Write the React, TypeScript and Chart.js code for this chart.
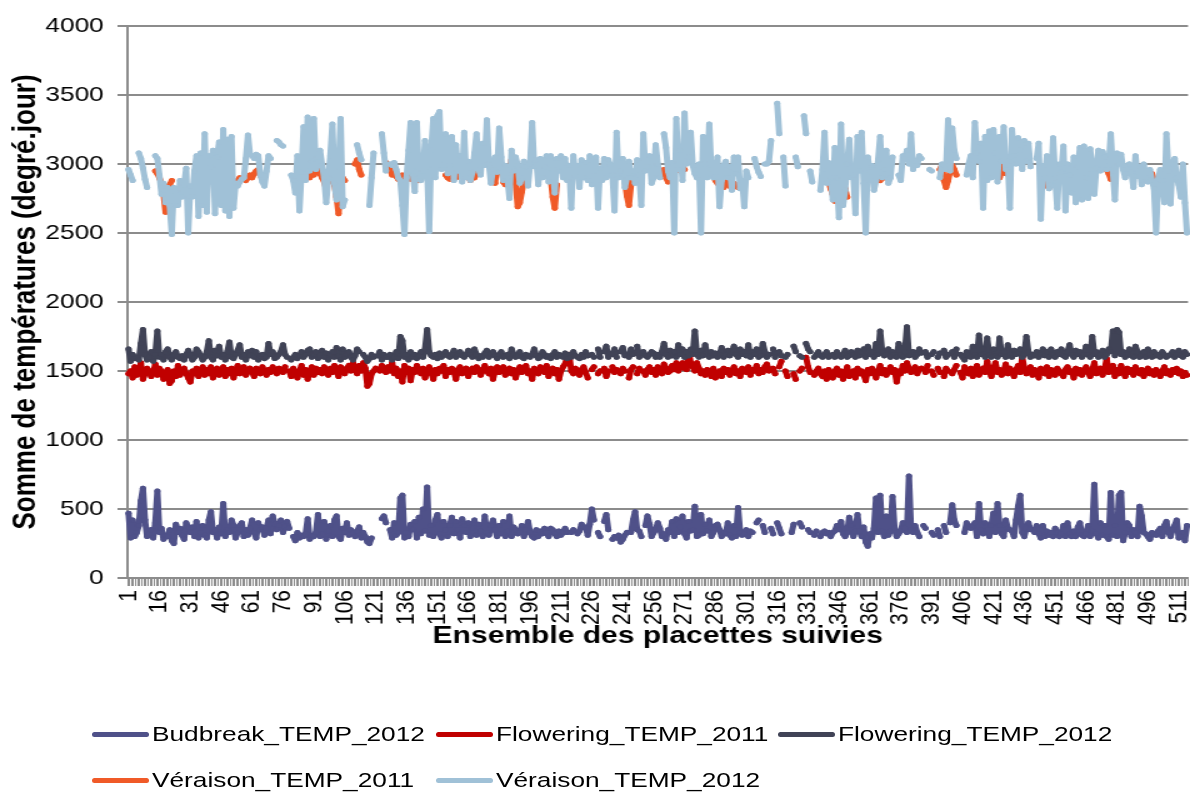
import React, { useEffect, useRef } from 'react';
import { Chart, registerables } from 'chart.js';

Chart.register(...registerables);

const _ = null;

// 515 monitored plots (placettes)
const categories: string[] = Array.from({ length: 515 }, (_v, i) => String(i + 1));
const labelStep = 15;

const seriesLabels = [
  'Budbreak_TEMP_2012',
  'Flowering_TEMP_2011',
  'Flowering_TEMP_2012',
  'Véraison_TEMP_2011',
  'Véraison_TEMP_2012',
];

const budbreak2012 = [
  470, 290, 420, 300, 330, 380, 560, 650, 420, 300, 320, 350, 290, 400, 630,
  330, 360, 280, 310, 300, 350, 270, 250, 390, 330, 360, 310, 280, 400, 370,
  330, 370, 300, 410, 290, 330, 380, 310, 290, 420, 480, 330, 350, 290, 370,
  320, 540, 300, 350, 330, 420, 380, 290, 330, 380, 400, 300, 350, 310, 360,
  420, 330, 290, 400, 350, 370, 310, 360, 420, 320, 450, 390, 350, 380, 420,
  330, 370, 410, 360, _, 300, 270, 330, 290, 310, 300, 320, 430, 280, 310,
  300, 330, 460, 300, 320, 410, 280, 340, 380, 300, 420, 450, 300, 280, 360,
  330, 400, 310, 350, 330, 300, 340, 370, 290, 330, 300, 260, 250, 290, _,
  _, _, _, 430, 450, 400, _, 350, 290, 400, 310, 330, 580, 600, 290,
  330, 300, 390, 350, 410, 290, 440, 320, 500, 340, 660, 310, 380, 300, 420,
  460, 320, 290, 410, 350, 300, 380, 440, 320, 410, 350, 290, 430, 380, 330,
  400, 300, 360, 420, 310, 390, 340, 300, 450, 330, 310, 380, 420, 350, 300,
  380, 320, 410, 300, 340, 450, 300, 370, 350, 320, 330, 380, 300, 350, 410,
  330, 300, 290, 350, 300, 340, 320, 360, 330, 300, 360, 350, 320, 300, 340,
  310, 330, 360, 330, _, 330, 350, _, 320, 340, 390, _, 370, 310, 390,
  500, 420, _, 330, 300, _, 410, 460, 350, _, 280, 300, 290, 310, 260,
  280, 310, 330, _, 330, 420, 480, 350, 340, 300, _, 380, 450, 390, 300,
  330, 350, 400, 360, 300, 320, 280, 350, 330, 410, 300, 430, 330, 370, 450,
  320, 290, 410, 340, 350, 520, 300, 310, 460, 320, 390, 340, 420, 300, 330,
  380, 390, 350, 300, 330, 320, 400, 310, 290, 380, 300, 510, 330, 310, 320,
  350, 300, 340, 330, _, 400, 420, _, 380, 330, _, _, 360, 320, _,
  400, 360, 320, _, _, _, _, 330, 390, _, _, 400, 370, _, _,
  350, 330, _, 310, 340, _, 300, 330, 340, 320, 330, 300, 330, 340, 380,
  350, 410, 320, 300, 330, 440, 380, 300, 340, 460, 340, 300, 370, 260, 230,
  320, 290, 360, 580, 330, 600, 340, 300, 450, 310, 340, 590, 360, 300, 320,
  340, 400, 360, 330, 740, 350, 330, 380, 330, 300, _, 380, 360, _, _,
  330, 310, _, 350, 300, _, 380, 330, _, 400, 530, 420, 380, _, _,
  _, 330, 400, 370, 360, 380, 400, 300, 540, 350, 320, 400, 380, 300, 380,
  470, 330, 540, 380, 320, 300, 420, 360, 350, 340, 300, 420, 520, 600, 330,
  300, 360, 400, 350, _, 330, 380, 320, 290, 380, 300, 340, 310, 330, 300,
  360, 330, 300, 320, 380, 300, 400, 320, 300, 340, 300, 370, 400, 310, 300,
  320, 380, 300, 340, 680, 320, 290, 400, 310, 380, 300, 280, 620, 310, 380,
  300, 600, 620, 270, 330, 400, 380, 300, 350, 330, 300, 520, 450, 330, 320,
  300, 280, 330, _, 310, 340, 360, 300, 380, 410, 330, 300, 350, 380, 420,
  290, 300, 330, 270, 380,
];

const flowering2011 = [
  1480, 1500, 1450, 1530, 1470, 1500, 1560, 1440, 1480, 1520, 1500, 1460, 1490, 1550, 1470,
  1520, 1500, 1440, 1480, 1510, 1410, 1430, 1500, 1460, 1540, 1470, 1500, 1520, 1480, 1450,
  1420, 1500, 1480, 1520, 1460, 1500, 1530, 1470, 1510, 1480, 1530, 1450, 1500, 1520, 1470,
  1490, 1530, 1460, 1510, 1480, 1520, 1450, 1500, 1540, 1480, 1510, 1530, 1470, 1500, 1520,
  1490, 1460, 1520, 1500, 1480, 1530, 1500, 1470, 1510, 1490, 1530, 1500, 1480, 1520, 1510,
  1490, 1530, _, 1500, 1460, 1520, 1480, 1450, 1500, 1540, 1470, 1510, 1440, 1500, 1530,
  1470, 1520, 1490, 1510, 1480, 1530, 1500, 1470, 1520, 1490, 1540, 1500, 1460, 1530, 1510,
  1480, 1520, 1540, 1500, 1560, 1510, 1480, 1540, 1500, 1560, 1520, 1390, 1410, 1480, 1500,
  1520, _, 1500, 1540, 1510, 1490, 1530, 1500, 1560, 1480, 1520, 1460, 1500, 1420, 1540,
  1500, 1520, 1430, 1510, 1490, 1540, 1510, 1480, 1520, 1450, 1500, 1530, 1490, 1440, 1510,
  1480, 1520, 1500, 1540, 1460, 1510, 1490, 1520, 1500, 1440, 1510, 1530, 1480, 1500, 1520,
  1460, 1500, 1520, 1490, 1530, 1510, 1470, 1500, 1540, 1500, 1480, 1520, 1440, 1500, 1530,
  1490, 1510, 1530, 1470, 1500, 1520, 1480, 1510, 1450, 1500, 1530, 1490, 1510, 1540, 1480,
  1500, 1440, 1520, 1500, 1480, 1530, 1510, 1490, 1540, 1460, 1500, 1520, 1480, 1510, 1440,
  1500, 1530, 1550, 1600, 1620, 1500, 1480, 1520, 1500, 1470, 1510, 1530, 1490, 1450, _,
  1510, 1530, _, 1480, 1500, _, 1520, 1460, 1500, _, 1530, 1490, 1510, _, 1480,
  1520, 1500, _, 1450, 1510, 1530, _, 1480, 1520, _, 1500, 1470, 1510, 1530, 1490,
  1510, 1470, 1530, 1500, 1480, 1550, 1520, 1490, 1500, 1540, 1510, 1560, 1500, 1530, 1560,
  1520, 1510, 1640, 1560, 1530, 1500, 1560, 1520, 1480, 1500, 1470, 1510, 1490, 1460, 1520,
  1450, 1480, 1500, 1460, 1520, 1490, 1510, 1470, 1500, 1530, 1480, 1500, 1460, 1520, 1500,
  1490, 1530, 1470, 1510, 1500, 1540, 1480, 1510, 1490, 1530, 1550, 1500, _, 1520, 1480,
  _, 1530, 1570, _, 1500, 1460, _, _, 1480, 1440, _, 1500, 1520, _, 1600,
  1530, 1490, _, 1470, 1500, 1520, 1480, 1460, 1500, 1440, 1510, 1480, 1450, 1500, 1520,
  1470, 1500, 1440, 1490, 1530, 1460, 1480, 1500, 1450, 1520, 1480, 1500, 1470, 1430, 1510,
  1480, 1520, 1490, 1450, 1500, 1540, 1480, 1510, 1470, 1500, 1530, 1490, 1510, 1420, 1500,
  1480, 1540, 1500, 1560, 1520, 1490, 1500, 1530, 1480, 1510, 1520, _, 1490, 1540, _,
  1500, 1470, _, 1520, 1490, _, 1460, 1520, 1500, _, 1480, 1510, 1540, _, 1490,
  1450, 1530, 1500, 1480, 1520, 1460, 1510, 1540, 1470, 1500, 1520, 1490, 1570, 1500, 1460,
  1520, 1560, 1490, 1510, 1470, 1500, 1550, 1480, 1520, 1500, 1460, 1510, 1540, 1490, 1600,
  1520, 1480, 1500, 1530, 1470, 1510, 1490, 1450, 1520, 1500, 1480, 1530, 1460, 1510, 1490,
  1470, 1520, 1500, 1480, 1460, 1510, 1530, 1490, 1500, 1450, 1520, 1480, 1510, 1470, 1500,
  1530, 1490, 1460, 1510, 1560, 1480, 1500, 1520, 1470, 1510, 1590, 1490, 1520, 1540, 1460,
  1510, 1480, 1540, 1500, 1460, 1520, 1490, 1510, 1470, 1530, 1500, 1480, 1510, 1460, 1500,
  1520, 1480, 1500, 1470, 1510, 1490, 1460, 1500, 1530, 1480, 1500, 1470, 1510, 1490, 1520,
  1480, 1500, 1460, 1490, 1470,
];

const flowering2012 = [
  1660, 1570, 1620, 1590, 1600, 1580, 1700, 1800, 1620, 1580, 1600, 1640, 1570, 1620, 1790,
  1600, 1620, 1580, 1640, 1660, 1600, 1580, 1620, 1640, 1600, 1590, 1610, 1580, 1620, 1650,
  1620, 1580, 1600, 1660, 1640, 1610, 1580, 1600, 1640, 1720, 1600, 1580, 1650, 1610, 1680,
  1600, 1620, 1580, 1640, 1710, 1600, 1590, 1620, 1650, 1690, 1600, 1620, 1580, 1640, 1610,
  1650, 1600, 1640, 1580, 1610, 1620, 1590, 1600, 1700, 1620, 1640, 1590, 1600, 1620, 1640,
  1690, 1620, 1600, _, 1580, 1600, 1620, 1590, 1610, 1640, 1600, 1620, 1650, 1660, 1600,
  1620, 1640, 1590, 1610, 1650, 1600, 1630, 1580, 1620, 1640, 1600, 1670, 1610, 1580, 1660,
  1600, 1620, 1640, 1600, 1580, 1610, 1660, 1640, _, 1620, 1600, 1570, 1590, 1620, 1600,
  _, 1610, 1640, 1580, 1620, 1600, 1600, 1620, 1580, 1600, 1640, 1590, 1750, 1720, 1600,
  1620, 1580, 1640, 1600, 1620, 1590, 1610, 1640, 1600, 1660, 1800, 1640, 1610, 1600, 1620,
  1590, 1630, 1600, 1620, 1640, 1610, 1600, 1620, 1650, 1600, 1620, 1640, 1610, 1600, 1620,
  1650, 1620, 1600, 1660, 1620, 1590, 1610, 1600, 1630, 1650, 1600, 1620, 1640, 1610, 1590,
  1620, 1640, 1600, 1610, 1620, 1590, 1660, 1620, 1600, 1610, 1640, 1600, 1590, 1620, 1610,
  1600, 1620, 1660, 1610, 1590, 1600, 1640, 1620, 1600, 1610, 1590, 1620, 1640, 1600, 1620,
  1610, 1600, 1630, 1590, 1620, 1600, 1640, 1610, 1600, 1590, 1620, 1600, 1640, 1610, _,
  1620, 1600, _, 1660, 1600, _, 1640, 1680, 1600, _, 1620, 1660, 1600, _, 1640,
  1670, 1610, _, 1600, 1660, 1620, _, 1680, 1600, _, 1640, 1610, 1600, 1620, 1640,
  1630, 1600, 1620, 1600, 1640, 1700, 1620, 1600, 1650, 1610, 1640, 1600, 1690, 1620, 1660,
  1600, 1640, 1610, 1660, 1620, 1790, 1620, 1600, 1650, 1610, 1690, 1620, 1600, 1640, 1610,
  1630, 1600, 1620, 1670, 1600, 1620, 1650, 1610, 1640, 1680, 1620, 1600, 1660, 1620, 1640,
  1610, 1690, 1600, 1640, 1620, 1660, 1600, 1610, 1700, 1640, 1600, 1620, _, 1660, 1600,
  _, 1640, 1610, _, 1600, 1620, _, _, 1680, 1640, _, 1610, 1600, _, 1700,
  1660, 1640, _, 1600, 1620, 1640, 1610, 1600, 1620, 1640, 1600, 1610, 1620, 1600, 1640,
  1610, 1600, 1620, 1650, 1600, 1610, 1640, 1620, 1600, 1650, 1610, 1640, 1660, 1600, 1680,
  1620, 1640, 1600, 1700, 1620, 1790, 1640, 1610, 1620, 1660, 1600, 1640, 1620, 1600, 1700,
  1620, 1600, 1640, 1820, 1610, 1620, 1640, 1600, 1620, 1660, 1630, _, 1640, 1600, _,
  1620, 1640, _, 1600, 1630, _, 1650, 1600, 1620, _, 1640, 1600, 1660, _, 1620,
  1600, 1580, 1640, 1610, 1600, 1680, 1620, 1600, 1760, 1620, 1660, 1600, 1740, 1620, 1600,
  1660, 1610, 1600, 1740, 1620, 1640, 1600, 1690, 1620, 1600, 1650, 1620, 1640, 1660, 1600,
  1620, 1750, 1640, 1600, 1620, 1610, 1640, 1600, 1620, 1660, 1610, 1640, 1600, 1660, 1620,
  1600, 1640, 1620, 1660, 1610, 1600, 1640, 1690, 1620, 1600, 1650, 1620, 1640, 1600, 1620,
  1680, 1620, 1600, 1750, 1620, 1640, 1600, 1620, 1650, 1600, 1620, 1660, 1640, 1790, 1610,
  1800, 1780, 1620, 1640, 1600, 1620, 1660, 1610, 1600, 1680, 1640, 1600, 1620, 1640, 1600,
  1660, 1620, 1600, 1640, 1610, 1620, 1600, 1640, 1620, 1600, 1610, 1620, 1640, 1600, 1620,
  1650, 1610, 1600, 1640, 1620,
];

const veraison2011 = [
  _, _, _, _, _, _, _, _, _, _, _, _, _, 2950, 2930,
  2900, 2860, 2780, 2650, 2720, 2850, 2880, _, _, _, _, _, _, _, _,
  _, _, 2780, 2930, 2870, 2760, 2900, _, _, _, _, _, _, _, _,
  _, _, _, _, _, _, _, 2860, 2880, 2900, 2890, 2910, 2880, 2900, 2920,
  2900, 2930, 2950, 2960, 2920, 2890, 2900, _, _, _, _, _, _, _, _,
  _, _, _, _, _, _, _, _, _, _, _, _, _, 2900, 2940,
  2920, 2950, 2960, 2930, 2900, 2870, 2820, 2900, 2950, 2880, 2850, 2760, 2640, 2820, 2900,
  2880, _, _, _, _, 3000, 3030, 2960, 2920, _, _, _, _, _, _,
  _, _, _, _, _, 3010, 2990, 2960, 2920, 2940, 2910, 2890, 2900, 2920, 2880,
  2900, 2920, 2890, 2910, 2930, 2900, 2880, 2900, _, _, _, _, _, _, _,
  _, _, _, _, 2920, 2900, 2890, 2910, 2930, 2900, 2950, 2980, 3030, 2990, 2960,
  2920, 2880, 2910, 2900, 2930, _, _, _, _, _, _, 2940, 2920, 2860, 3010,
  3020, 2990, 2870, 2850, 2900, 2950, 3030, 2980, 2860, 2690, 2720, 2800, 2880, 2950, _,
  _, _, _, _, _, _, _, _, _, _, 2900, 2760, 2680, 2850, _,
  _, _, _, _, _, _, _, _, _, _, _, _, _, _, _,
  _, _, _, _, _, _, _, _, _, _, _, _, _, _, _,
  2930, 2880, 2770, 2700, 2850, 2920, _, _, _, _, _, _, _, _, _,
  _, _, _, _, 2940, 2960, 2900, 2870, _, _, _, _, 2960, 2950, 2980,
  2960, _, _, _, _, _, _, _, _, _, _, _, _, _, _,
  2880, 2860, 2850, 2870, 2830, 2860, 2880, 2840, 2820, 2860, 2850, 2830, _, _, _,
  _, _, _, _, _, _, _, _, _, _, _, _, _, _, _,
  _, _, _, _, _, _, _, _, _, _, _, _, _, _, _,
  _, _, _, _, _, _, _, 2900, 2880, 2910, 2870, 2820, 2780, 2730, 2800,
  2850, 2900, 2880, 2820, 2760, _, _, _, _, _, _, _, _, _, _,
  _, _, _, _, _, 2880, 2910, 2900, _, _, _, _, _, _, _,
  _, _, _, _, _, _, _, _, _, _, _, _, _, _, _,
  _, _, _, _, 2960, 2990, 2880, 2830, 2880, 2950, 2990, 2960, 2920, _, _,
  _, _, _, _, _, _, _, _, _, _, _, _, 2950, 3000, 3040,
  2990, 3020, 2950, 2900, 2950, 3000, 2930, _, _, _, _, _, _, _, _,
  _, _, _, _, _, _, _, _, _, _, 2880, 2840, 2830, 2850, 2870,
  2860, 2880, _, _, _, _, _, _, _, _, _, _, _, _, _,
  _, _, _, _, _, _, _, _, _, _, 2960, 2930, 2890, 2930, _,
  _, _, _, _, _, _, _, _, _, _, _, _, _, _, _,
  _, _, 2930, 2880, 2850, 2860, _, _, _, _, _, _, _, _, _,
  _, _, _, _, _,
];

const veraison2012 = [
  2960, 2920, 2880, _, _, 3080, 3040, 2970, 2890, 2830, _, _, _, 3060, 3040,
  2920, 2780, 2860, 2720, 2830, 2700, 2490, 2830, 2800, 2700, 2880, 2760, 2850, 2970, 2500,
  2840, 2760, 2950, 3060, 2620, 3080, 2700, 3220, 2650, 3060, 2980, 3100, 2640, 3050, 3160,
  2700, 3250, 2660, 3180, 2620, 3200, 2680, 2860, 2840, 2870, 2890, 2900, 3040, 3210, 3070,
  3060, 3040, 3070, 3060, 2920, 2870, 2840, 2950, 3060, 3040, _, _, 3170, 3160, 3140,
  3130, _, _, _, 2920, 2880, 2790, 3060, 2660, 2940, 3270, 2880, 3340, 2950, 3020,
  3330, 2960, 3050, 3100, 2990, 2900, 2720, 2900, 3060, 3290, 2860, 2740, 2950, 3330, 2690,
  2740, _, _, _, _, _, 3140, 3080, 3030, _, _, _, 2700, 2900, 3080,
  _, _, _, 3220, 3080, 2950, _, 3000, 2990, 3010, 2960, 2900, 2880, 2700, 2490,
  2900, 3100, 3300, 2950, 2800, 3300, 2900, 2880, 2950, 3170, 2980, 2510, 3100, 3330, 2900,
  3350, 3380, 2960, 3000, 3220, 2930, 2990, 3200, 2880, 3140, 2950, 3060, 2870, 3230, 2900,
  3020, 2880, 2940, 3080, 3220, 2960, 2920, 3150, 2990, 3320, 3000, 2860, 2960, 3050, 2940,
  3260, 3050, 2880, 2990, 2900, 2750, 3100, 2950, 3050, 2990, 2860, 2900, 3020, 2980, 2840,
  3000, 3300, 2980, 3030, 2850, 3040, 2900, 2980, 3060, 2870, 3060, 2960, 2790, 3040, 2950,
  3060, 2900, 3040, 2880, 2990, 2680, 3060, 2910, 2990, 2830, 3030, 2900, 3010, 2880, 3060,
  2850, 2920, 3050, 2680, 2970, 2880, 3040, 2900, 3030, 2990, 2920, 2660, 3230, 2900, 2950,
  3040, 2830, 2900, 3020, 2900, 2950, 2860, 3030, 2920, 2700, 3220, 2950, 2980, 3060, 2860,
  2900, 3140, 3000, 2900, _, 3220, 3120, 2950, 2900, 3010, 2500, 3330, 2960, 3100, 2880,
  3370, 3000, 3050, 3230, 2990, 2930, 2900, 3000, 2500, 3200, 3000, 2900, 3290, 2960, 2900,
  2910, 3050, 2690, 2880, 2990, 3020, 2900, 2980, 2810, 3050, 2930, 3050, 2820, 2880, 2690,
  2950, 2900, _, _, 3040, 2980, 2940, 2910, _, 3000, 3000, 3020, 3170, _, _,
  3440, 3220, _, 3050, 2840, _, _, _, _, 3050, 2980, _, _, 3350, 3220,
  _, 2950, 2870, _, _, _, 2810, 2960, 3230, 2860, 3010, 2900, 2740, 3120, 2900,
  2610, 3290, 2700, 2810, 3000, 3180, 2900, 2920, 2640, 3200, 2950, 3230, 2860, 2500, 3050,
  2940, 2990, 2810, 2880, 3030, 3200, 2900, 2960, 3100, 2860, 2900, 3050, _, _, 2920,
  2880, 3060, 3040, 3100, 3000, 3220, 2960, 3020, 2990, 3060, 3040, _, _, _, 2960,
  2950, _, _, _, 2900, 3000, 2990, 2960, 3320, 2950, 3260, 3100, 3040, _, _,
  _, _, 2920, 3000, 3060, 2900, 3300, 3080, 3020, 3150, 2680, 3200, 2880, 3240, 2900,
  3250, 3080, 2870, 3200, 3020, 3270, 2960, 3020, 2680, 3250, 3060, 3000, 3190, 3100, 2960,
  3170, 3020, 3150, 2980, _, _, 3040, 3150, 2600, 2990, 2900, 3060, 2820, 2850, 3190,
  2900, 2680, 3000, 2940, 3130, 2660, 3000, 2920, 2790, 3050, 2720, 2980, 3120, 2740, 3130,
  2900, 2750, 3110, 2960, 2780, 2970, 3100, 2950, 3090, 3050, 2960, 2990, 3220, 2950, 2740,
  3080, 3000, 3070, 2960, 2900, 2990, 3000, 2940, 2830, 3060, 2910, 2980, 2850, 3000, 2900,
  2870, 2960, 2880, 2820, 2500, 2890, 2960, 2880, 2720, 3220, 2950, 2710, 3000, 3040, 2900,
  2850, 2760, 3000, 2720, 2500,
];

const yTitle = 'Somme de températures (degré.jour)';
const xTitle = 'Ensemble des placettes suivies';

const COLORS = ['#4f5189', '#c00000', '#404356', '#f05a28', '#a0c1d7'];
const FONT = "'Liberation Sans', Arial, Helvetica, sans-serif";

export default function App() {
  const ref = useRef<HTMLCanvasElement>(null);

  useEffect(() => {
    const canvas = ref.current;
    if (!canvas) return;
    const mk = (i: number, data: (number | null)[]) => ({
      label: seriesLabels[i],
      data,
      borderColor: COLORS[i],
      backgroundColor: COLORS[i],
      pointBackgroundColor: COLORS[i],
      pointBorderWidth: 0,
      pointRadius: 2.5,
      pointHoverRadius: 0,
      borderWidth: 5,
      borderCapStyle: 'round' as const,
      borderJoinStyle: 'round' as const,
      spanGaps: false,
      tension: 0,
    });
    const chart = new Chart(canvas, {
      type: 'line',
      data: {
        labels: categories,
        datasets: [
          mk(4, veraison2012),
          mk(3, veraison2011),
          mk(2, flowering2012),
          mk(1, flowering2011),
          mk(0, budbreak2012),
        ],
      },
      options: {
        responsive: false,
        animation: false,
        devicePixelRatio: 1,
        events: [],
        layout: { autoPadding: false, padding: { top: 26, right: 1.6, bottom: 132, left: 0 } },
        plugins: { legend: { display: false }, tooltip: { enabled: false } },
        scales: {
          x: {
            type: 'category',
            offset: true,
            grid: {
              display: true,
              drawOnChartArea: false,
              drawTicks: true,
              tickLength: 8,
              color: '#8c8c8c',
              lineWidth: 1,
              offset: true,
            },
            border: { display: true, color: '#8c8c8c', width: 2 },
            ticks: {
              autoSkip: false,
              maxRotation: 90,
              minRotation: 90,
              padding: 4,
              color: '#000',
              font: (ctx: any) => ({
                family: FONT,
                size: ctx.index % labelStep === 0 ? 21 : 1,
              }),
              callback: (_v: any, index: number) => (index % labelStep === 0 ? categories[index] : ''),
            },
            title: {
              display: true,
              text: xTitle,
              color: '#000',
              font: { family: FONT, size: 24, weight: 'bold' },
              padding: { top: 0, bottom: 9 },
            },
            afterFit: (s: any) => {
              s.height = 82;
              s.paddingLeft = 0;
              s.paddingRight = 0;
            },
          },
          y: {
            min: 0,
            max: 4000,
            ticks: {
              stepSize: 500,
              padding: 11,
              color: '#000',
              font: { family: FONT, size: 21 },
              callback: (v: any) => String(v),
            },
            grid: { color: '#8c8c8c', lineWidth: 2, tickLength: 8, drawTicks: true },
            border: { display: true, color: '#8c8c8c', width: 2 },
            title: {
              display: true,
              text: yTitle,
              color: '#000',
              font: { family: FONT, size: 26, weight: 'bold' },
              padding: { top: 5, bottom: 0 },
            },
            afterFit: (s: any) => {
              s.width = 102;
            },
          },
        },
      },
    } as any);
    return () => chart.destroy();
  }, []);

  const legendItems = [
    { i: 0, x: 92, y: 734 },
    { i: 1, x: 436, y: 734 },
    { i: 2, x: 778, y: 734 },
    { i: 3, x: 92, y: 780 },
    { i: 4, x: 436, y: 780 },
  ];

  return (
    <div
      style={{
        position: 'absolute',
        left: 0,
        top: 0,
        width: 1190,
        height: 792,
        background: '#fff',
        overflow: 'hidden',
      }}
    >
      <canvas
        ref={ref}
        width={952}
        height={792}
        style={{ width: '1190px', height: '792px', display: 'block' }}
      />
      {legendItems.map((it) => (
        <React.Fragment key={it.i}>
          <div
            style={{
              position: 'absolute',
              left: it.x,
              top: it.y - 2.5,
              width: 57,
              height: 5,
              borderRadius: 3,
              background: COLORS[it.i],
            }}
          />
          <div
            style={{
              position: 'absolute',
              left: it.x + 60,
              top: it.y - 12,
              height: 24,
              lineHeight: '24px',
              fontSize: 21,
              fontFamily: FONT,
              color: '#000',
              whiteSpace: 'nowrap',
              transform: 'scaleX(1.25)',
              transformOrigin: 'left center',
            }}
          >
            {seriesLabels[it.i]}
          </div>
        </React.Fragment>
      ))}
    </div>
  );
}
